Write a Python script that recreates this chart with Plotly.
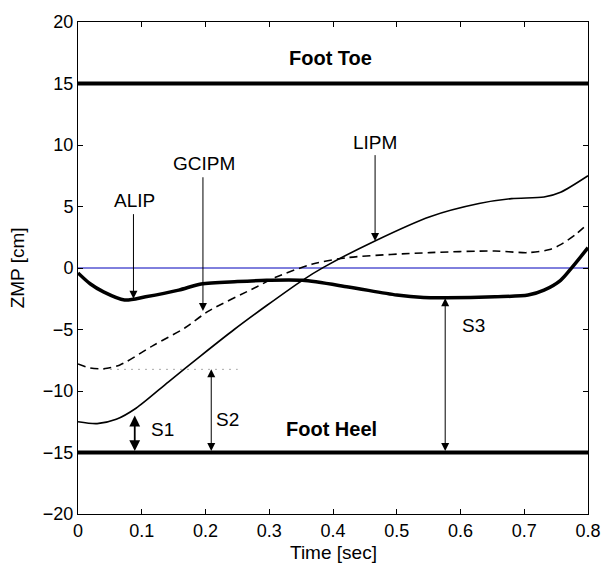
import plotly.graph_objects as go

# ---- data ----
alip_t = [0, 0.019, 0.04, 0.073, 0.106, 0.158, 0.193, 0.25, 0.296, 0.352, 0.424, 0.50, 0.542, 0.578, 0.654, 0.706, 0.731, 0.757, 0.775, 0.80]
alip_y = [-0.4, -1.28, -1.94, -2.6, -2.34, -1.8, -1.3, -1.1, -1.0, -1.0, -1.54, -2.2, -2.4, -2.42, -2.34, -2.2, -1.8, -1.0, 0.05, 1.65]

lipm_t = [0, 0.03, 0.06, 0.091, 0.142, 0.193, 0.245, 0.296, 0.352, 0.385, 0.465, 0.552, 0.629, 0.68, 0.731, 0.757, 0.80]
lipm_y = [-12.5, -12.65, -12.3, -11.4, -9.25, -7.12, -5.0, -3.05, -1.0, 0.05, 2.18, 4.17, 5.24, 5.64, 5.77, 6.16, 7.5]

gcipm_t = [0, 0.019, 0.04, 0.065, 0.117, 0.168, 0.204, 0.28, 0.311, 0.368, 0.424, 0.552, 0.654, 0.706, 0.74, 0.757, 0.78, 0.80]
gcipm_y = [-7.8, -8.13, -8.19, -7.9, -6.33, -4.86, -3.53, -1.54, -0.74, 0.32, 0.85, 1.25, 1.38, 1.25, 1.5, 1.9, 2.7, 3.6]

foot_toe = 15
foot_heel = -15
x_range = [0, 0.8]
y_range = [-20, 20]
dotted_t = [0.04, 0.25]
dotted_y = -8.24

FONT = "Liberation Sans, Arial, Helvetica, sans-serif"

fig = go.Figure()
fig.add_trace(go.Scatter(x=x_range, y=[0, 0], mode="lines", line=dict(color="#0000bb", width=1)))
fig.add_trace(go.Scatter(x=x_range, y=[foot_toe] * 2, mode="lines", line=dict(color="black", width=4)))
fig.add_trace(go.Scatter(x=x_range, y=[foot_heel] * 2, mode="lines", line=dict(color="black", width=4)))
fig.add_trace(go.Scatter(x=dotted_t, y=[dotted_y] * 2, mode="lines", line=dict(color="#555555", width=1, dash="1px,6px")))
fig.add_trace(go.Scatter(x=lipm_t, y=lipm_y, mode="lines", line=dict(color="black", width=1.6, shape="spline", smoothing=0.8)))
fig.add_trace(go.Scatter(x=gcipm_t, y=gcipm_y, mode="lines", line=dict(color="black", width=1.6, dash="8px,5px", shape="spline", smoothing=0.8)))
fig.add_trace(go.Scatter(x=alip_t, y=alip_y, mode="lines", line=dict(color="black", width=3.5, shape="spline", smoothing=0.8)))

ann = []
def label(x, y, text, bold=False, size=19):
    ann.append(dict(x=x, y=y, xref="x", yref="y", text=("<b>%s</b>" % text) if bold else text,
                    xanchor="center", yanchor="middle",
                    showarrow=False, font=dict(size=size, color="black", family=FONT)))

def arrow(x, y0, y1, both=False, width=1.0, size=1.6):
    ann.append(dict(x=x, y=y1, ax=x, ay=y0, xref="x", yref="y", axref="x", ayref="y", text="",
                    showarrow=True, arrowhead=2, arrowsize=size, arrowwidth=width, arrowcolor="black",
                    arrowside="end+start" if both else "end", startarrowhead=2, startarrowsize=size))

label(0.088, 5.5, "ALIP")
label(0.197, 8.5, "GCIPM")
label(0.466, 10.2, "LIPM")
label(0.62, -4.7, "S3")
label(0.132, -13.1, "S1")
label(0.234, -12.3, "S2")
label(0.396, 17.1, "Foot Toe", bold=True, size=20)
label(0.398, -13.1, "Foot Heel", bold=True, size=20)

arrow(0.087, 4.5, -2.5)
arrow(0.196, 7.5, -3.5)
arrow(0.466, 9.3, 2.2)
arrow(0.576, -15, -2.45, both=True)
arrow(0.089, -15, -12.0, both=True, width=1.8, size=1.2)
arrow(0.209, -15, dotted_y, both=True)

ann.append(dict(x=0.5, y=-0.078, xref="paper", yref="paper", text="Time [sec]", showarrow=False,
                xanchor="center", yanchor="middle",
                font=dict(size=19, color="black", family=FONT)))
ann.append(dict(x=-0.119, y=0.5, xref="paper", yref="paper", text="ZMP [cm]", textangle=-90, showarrow=False,
                xanchor="center", yanchor="middle",
                font=dict(size=19, color="black", family=FONT)))

axis_common = dict(showline=True, linecolor="black", linewidth=1, mirror="ticks", ticks="inside",
                   ticklen=5, tickcolor="black", showgrid=False, zeroline=False,
                   tickfont=dict(size=18, color="black", family=FONT))
fig.update_xaxes(range=x_range, dtick=0.1, tick0=0, tickformat=".1~f", **axis_common)
fig.update_yaxes(range=y_range, dtick=5, tick0=0, **axis_common)
fig.update_layout(width=613, height=567, margin=dict(l=78, r=15, t=13, b=53),
                  plot_bgcolor="white", paper_bgcolor="white", showlegend=False,
                  annotations=ann, font=dict(family=FONT))
fig.write_html("out.html")
